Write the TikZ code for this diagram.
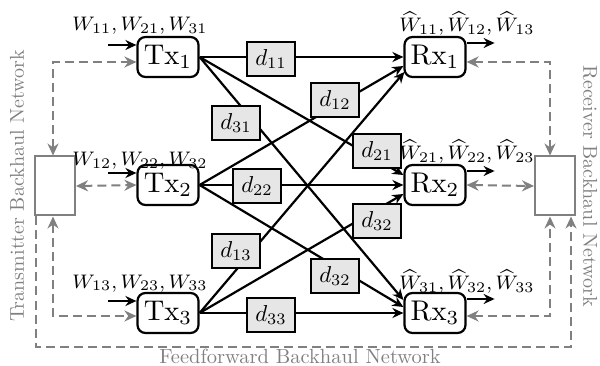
\documentclass[tikz,border=0pt]{standalone}
\usepackage{graphicx}
\usetikzlibrary{arrows.meta,calc}
\definecolor{bkgray}{RGB}{128,128,128}
\definecolor{dfill}{RGB}{230,230,230}
\newcommand{\txt}[2]{\scalebox{2.85}{$\mathrm{#1}_{#2}$}}
\newcommand{\dtxt}[1]{\scalebox{2.3}{$d_{#1}$}}
\newcommand{\wtxt}[1]{\scalebox{2.45}{\fontsize{8}{9}\selectfont$#1$}}
\newcommand{\gtxt}[1]{\scalebox{2.0}{#1}}
\begin{document}
\begin{tikzpicture}[x=1pt,y=-1pt,
  blk/.style={line width=2.2pt},
  arr/.style={blk,-{Stealth[length=11pt,width=10pt]}},
  dsh/.style={line width=2pt,draw=bkgray,dash pattern=on 9pt off 5pt},
  darr/.style={dsh,{Stealth[length=12pt,width=11pt]}-{Stealth[length=12pt,width=11pt]}},
  dend/.style={dsh,-{Stealth[length=12pt,width=11pt]}},
  txrx/.style={draw,line width=2.2pt,rounded corners=8pt,minimum width=61pt,minimum height=40pt,inner sep=0pt},
  dbox/.style={draw,line width=2pt,fill=dfill,minimum width=48pt,minimum height=34pt,inner sep=0pt},
  bbox/.style={draw=bkgray,line width=2pt,minimum width=40pt,minimum height=59pt,inner sep=0pt},
  lbl/.style={inner sep=0pt,anchor=base},
  glbl/.style={text=bkgray,inner sep=0pt}]
\useasboundingbox (0,0) rectangle (600,366);

% Tx / Rx nodes
\node[txrx] (Tx1) at (168,57) {\txt{Tx}{1}};
\node[txrx] (Tx2) at (168,185) {\txt{Tx}{2}};
\node[txrx] (Tx3) at (168,313) {\txt{Tx}{3}};
\node[txrx] (Rx1) at (435,57) {\txt{Rx}{1}};
\node[txrx] (Rx2) at (435,185) {\txt{Rx}{2}};
\node[txrx] (Rx3) at (435,313) {\txt{Rx}{3}};

% backhaul boxes
\node[bbox] (LB) at (55,186) {};
\node[bbox] (RB) at (555,186) {};

% input / output arrows
\foreach \i in {1,2,3}{
  \coordinate (in\i) at ($(Tx\i.west)+(-28,-12)$);
  \draw[arr] (in\i) -- ($(Tx\i.west)+(0,-12)$);
  \coordinate (out\i) at ($(Rx\i.east)+(28,-14)$);
  \draw[arr] ($(Rx\i.east)+(0,-14)$) -- (out\i);
}

% labels
\node[lbl] (L1) at (140,31) {\wtxt{W_{11}, W_{21}, W_{31}}};
\node[lbl] (L2) at (140,166) {\wtxt{W_{12}, W_{22}, W_{32}}};
\node[lbl] (L3) at (140,288) {\wtxt{W_{13}, W_{23}, W_{33}}};
\node[lbl] (R1) at (467,32) {\wtxt{\widehat{W}_{11}, \widehat{W}_{12}, \widehat{W}_{13}}};
\node[lbl] (R2) at (467,160) {\wtxt{\widehat{W}_{21}, \widehat{W}_{22}, \widehat{W}_{23}}};
\node[lbl] (R3) at (467,290) {\wtxt{\widehat{W}_{31}, \widehat{W}_{32}, \widehat{W}_{33}}};

% channel lines
\draw[arr] (Tx1.east) -- (Rx1.west);
\draw[arr] (Tx1.east) -- ($(Rx2.west)+(0,-10)$);
\draw[arr] (Tx1.east) -- ($(Rx3.west)+(0,-13)$);
\draw[arr] (Tx2.east) -- ($(Rx1.west)+(0,9)$);
\draw[arr] (Tx2.east) -- (Rx2.west);
\draw[arr] (Tx2.east) -- ($(Rx3.west)+(0,-6)$);
\draw[arr] (Tx3.east) -- ($(Rx1.west)+(1,15)$);
\draw[arr] (Tx3.east) -- ($(Rx2.west)+(0,9)$);
\draw[arr] (Tx3.east) -- (Rx3.west);

% delay boxes
\node[dbox] (d11) at (271,59) {\dtxt{11}};
\node[dbox] (d12) at (335,100) {\dtxt{12}};
\node[dbox] (d31) at (236,123) {\dtxt{31}};
\node[dbox] (d21) at (377,151) {\dtxt{21}};
\node[dbox] (d22) at (257,186) {\dtxt{22}};
\node[dbox] (d32a) at (377,221) {\dtxt{32}};
\node[dbox] (d13) at (236,251) {\dtxt{13}};
\node[dbox] (d32b) at (335,276) {\dtxt{32}};
\node[dbox] (d33) at (271,315) {\dtxt{33}};

% transmitter backhaul
\draw[darr] ($(LB.north)+(-2,0)$) |- ($(Tx1.west)+(0,5)$);
\draw[darr] (LB.east) -- (Tx2.west);
\draw[darr] ($(LB.south)+(-2,0)$) |- ($(Tx3.west)+(0,3)$);
% receiver backhaul
\draw[darr] ($(Rx1.east)+(0,5)$) -| ($(RB.north)+(-5,0)$);
\draw[darr] (Rx2.east) -- (RB.west);
\draw[darr] ($(Rx3.east)+(0,3)$) -| ($(RB.south)+(-5,0)$);
% feedforward
\coordinate (ffl) at ($(LB.south west)+(2,130)$);
\draw[dend] ($(LB.south west)+(2,0)$) -- (ffl) -| ($(RB.south east)+(-5,0)$);

% network labels
\node[glbl,rotate=90] (TBN) at (17,186) {\gtxt{Transmitter Backhaul Network}};
\node[glbl,rotate=-90] (RBN) at (590,186) {\gtxt{Receiver Backhaul Network}};
\node[glbl,anchor=base] (FBN) at (300,363) {\scalebox{2.05}{Feedforward Backhaul Network}};
\end{tikzpicture}
\end{document}
